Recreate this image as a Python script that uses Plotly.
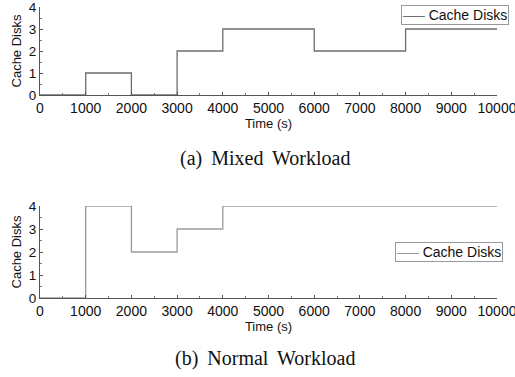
import plotly.graph_objects as go

# Data
time_a = [0, 1000, 2000, 3000, 4000, 6000, 8000, 10000]
disks_a = [0, 1, 0, 2, 3, 2, 3, 3]
time_b = [0, 1000, 2000, 3000, 4000, 10000]
disks_b = [0, 4, 2, 3, 4, 4]
series_name = "Cache Disks"
caption_a = "(a)\u2009 Mixed\u2009 Workload"
caption_b = "(b)\u2009 Normal\u2009 Workload"
x_title = "Time (s)"
y_title = "Cache Disks"

W, H = 515, 377
def py(p):
    return 1 - p / H

color_a = "#6e6e6e"
color_b = "#9a9a9a"

fig = go.Figure()
fig.add_trace(go.Scatter(x=time_a, y=disks_a, mode="lines", line_shape="hv",
                         line=dict(color=color_a, width=1.3), name=series_name,
                         xaxis="x", yaxis="y", showlegend=False))
fig.add_trace(go.Scatter(x=time_b, y=disks_b, mode="lines", line_shape="hv",
                         line=dict(color=color_b, width=1.3), name=series_name,
                         xaxis="x2", yaxis="y2", showlegend=False))

xtickfont = dict(family="Liberation Sans, Arial", size=14, color="#111")
ytickfont = dict(family="Liberation Sans, Arial", size=13.5, color="#111")
titlefont = dict(family="Liberation Sans, Arial", size=13, color="#111")
xdom = [40 / W, 497 / W]

def xaxis(anchor):
    return dict(domain=xdom, anchor=anchor, range=[0, 10000], dtick=1000, tick0=0,
                tickformat="d", automargin=False, ticklabeloverflow="allow",
                showgrid=False, zeroline=False, showline=True, linecolor="#555", linewidth=1,
                ticks="inside", ticklen=3, tickcolor="#555", tickfont=xtickfont,
                minor=dict(dtick=500, ticks="inside", ticklen=2, tickcolor="#777"),
                title=dict(text=x_title, font=titlefont, standoff=2))

def yaxis(anchor, dom):
    return dict(domain=dom, anchor=anchor, range=[0, 4], dtick=1, tick0=0,
                automargin=False, ticklabeloverflow="allow",
                showgrid=False, zeroline=False, showline=True, linecolor="#555", linewidth=1,
                ticks="inside", ticklen=3, tickcolor="#555", tickfont=ytickfont,
                minor=dict(dtick=0.5, ticks="inside", ticklen=2, tickcolor="#777"),
                title=dict(text=y_title, font=titlefont, standoff=4))

def legend_box(x_right, y_top, color):
    return dict(text=f"<span style='color:{color}'>\u2014\u2013</span> {series_name}",
                x=x_right / W, y=py(y_top), xref="paper", yref="paper",
                xanchor="right", yanchor="top", showarrow=False,
                bgcolor="white", bordercolor="#999", borderwidth=1, borderpad=1,
                font=dict(family="Liberation Sans, Arial", size=14, color="#111"))

cap_font = dict(family="Liberation Serif, Times New Roman", size=20, color="#111")

fig.update_layout(
    width=W, height=H, margin=dict(l=0, r=0, t=0, b=0, autoexpand=False),
    paper_bgcolor="white", plot_bgcolor="white", showlegend=False,
    xaxis=xaxis("y"), yaxis=yaxis("x", [py(95), py(7)]),
    xaxis2=xaxis("y2"), yaxis2=yaxis("x2", [py(298), py(206)]),
    annotations=[
        legend_box(509, 5, color_a),
        legend_box(503, 242, color_b),
        dict(text=caption_a, x=265 / W, y=py(158), xref="paper", yref="paper",
             showarrow=False, xanchor="center", yanchor="middle", font=cap_font),
        dict(text=caption_b, x=265 / W, y=py(358), xref="paper", yref="paper",
             showarrow=False, xanchor="center", yanchor="middle", font=cap_font),
    ],
)

fig.write_html("out.html", config={"displayModeBar": False},
               post_script="document.body.style.margin='0';document.body.style.overflow='hidden';")
